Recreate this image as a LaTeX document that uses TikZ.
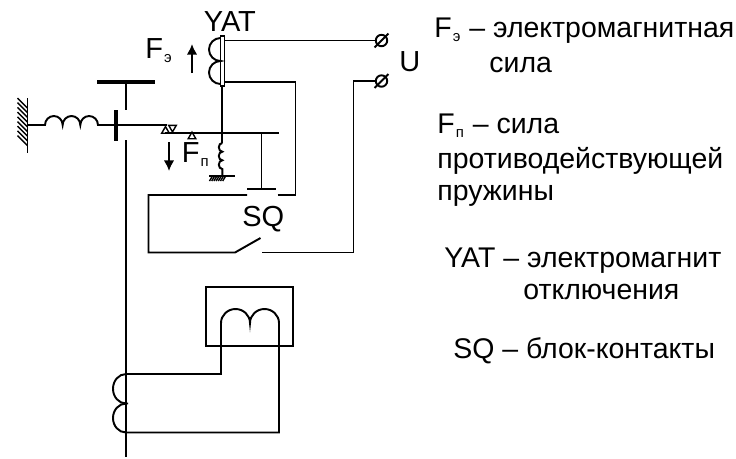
\documentclass[tikz,border=0pt]{standalone}
\usepackage{fontspec}
\setmainfont{Liberation Sans}
\usetikzlibrary{arrows.meta,shapes.geometric}
\newcommand{\lowtext}[1]{\kern0.6pt\relax\raisebox{-2.8pt}{\fontsize{8.5}{9}\selectfont #1}\kern0.6pt\relax}
\tikzset{
	wire/.style={line width=1.1pt},
	heavy/.style={line width=2.4pt},
	hatch/.style={line width=0.8pt},
	label/.style={anchor=base west,inner sep=0pt,font=\fontsize{16.2}{17}\selectfont},
	biglabel/.style={label,font=\fontsize{16.5}{18}\selectfont},
	force/.style={line width=1.1pt,-{Latex[length=6pt,width=6pt]}},
	tri/.style={regular polygon,regular polygon sides=3,draw,line width=0.8pt,inner sep=0pt,minimum size=5pt},
	terminal/.style={circle,draw,line width=1.1pt,inner sep=0pt,minimum size=6.5pt},
	rodbox/.style={rectangle,draw,line width=0.8pt,inner sep=0pt,minimum width=2.2pt,minimum height=28.5pt}
}
\begin{document}
\begin{tikzpicture}[x=0.02cm,y=0.02cm]
	\useasboundingbox (0,0) rectangle (736,-458);
	\coordinate (w1) at (27.5,-98);
	\coordinate (w2) at (27.5,-153);
	\coordinate (w0) at (27.5,-125);
	\coordinate (c1) at (45,-125);
	\coordinate (c2) at (98,-125);
	\coordinate (p1) at (116,-110);
	\coordinate (p2) at (116,-141);
	\coordinate (pm) at (116,-125);
	\coordinate (p3) at (167,-125);
	\coordinate (b1) at (97,-82);
	\coordinate (b2) at (155,-82);
	\coordinate (b3) at (126,-82);
	\coordinate (b4) at (126,-110);
	\coordinate (b5) at (126,-140);
	\coordinate (b6) at (126,-457);
	\coordinate (l1) at (165,-133);
	\coordinate (l2) at (279,-133);
	\coordinate (l4) at (261.5,-133);
	\coordinate (s1) at (222.3,-143);
	\coordinate (g0) at (222.3,-176);
	\coordinate (g1) at (209,-176);
	\coordinate (g2) at (235,-176);
	\coordinate (k1) at (247,-189);
	\coordinate (k2) at (276,-189);
	\coordinate (k3) at (261.5,-189);
	\coordinate (r1) at (277.5,-195);
	\coordinate (r2) at (295.5,-195);
	\coordinate (r3) at (295.5,-82);
	\coordinate (r4) at (224,-82);
	\coordinate (q1) at (247,-195);
	\coordinate (q2) at (148.5,-195);
	\coordinate (q3) at (148.5,-252.5);
	\coordinate (q4) at (235,-252.5);
	\coordinate (q5) at (260.5,-238);
	\coordinate (q6) at (262,-252.5);
	\coordinate (q7) at (353.5,-252.5);
	\coordinate (q8) at (353.5,-81);
	\coordinate (y1) at (224,-40.5);
	\coordinate (y2) at (220.5,-38);
	\coordinate (a1) at (192,-73);
	\coordinate (a2) at (192,-44);
	\coordinate (a3) at (169,-142);
	\coordinate (a4) at (169,-171);
	\coordinate (m1) at (221,-374);
	\coordinate (m2) at (221,-323);
	\coordinate (m5) at (279,-432.5);
	\coordinate (t1) at (126,-374);
	\coordinate (t2) at (126,-403.5);
	\coordinate (t3) at (126,-432.5);
	\coordinate (t4) at (128,-403.5);
	\node[rodbox] (rod) at (222.3,-61) {};
	\node[terminal] (u1) at (381.5,-40.5) {};
	\node[terminal] (u2) at (381.5,-81) {};
	\node[tri] (v1) at (165.5,-131) {};
	\node[tri,shape border rotate=180] (v2) at (172.5,-127.5) {};
	\node[tri] (v3) at (192,-136.5) {};
	\node[rectangle,draw,line width=1.1pt,minimum width=49.3pt,minimum height=33.4pt,inner sep=0pt] (box) at (249.5,-316.5) {};
	\node[biglabel] (tYAT) at (203.5,-31) {YAT};
	\node[biglabel] (tFe) at (145,-58) {F\lowtext{э}};
	\node[biglabel] (tFp) at (181.5,-162) {F\lowtext{п}};
	\node[biglabel] (tSQ) at (242,-226) {SQ};
	\node[biglabel] (tU) at (399,-71) {U};
	\node[label] (n1) at (434,-37) {F\lowtext{э} – электромагнитная};
	\node[label] (n2) at (489,-72) {сила};
	\node[label] (n3) at (437,-133) {F\lowtext{п} – сила};
	\node[label] (n4) at (437,-168) {противодействующей};
	\node[label] (n5) at (437,-200) {пружины};
	\node[label] (n6) at (444,-267) {YAT – электромагнит};
	\node[label] (n7) at (523,-299) {отключения};
	\node[label] (n8) at (453,-358) {SQ – блок-контакты};
	\draw [wire] (w1) -- (w2);
	\foreach \i in {0,...,8}
		\draw [hatch] (17.5,-98-4.7*\i) -- ++(10,-10);
	\draw [wire] (w0) -- (c1) arc[start angle=180,end angle=0,x radius=8.83,y radius=9]
		arc[start angle=180,end angle=0,x radius=8.83,y radius=9]
		arc[start angle=180,end angle=0,x radius=8.83,y radius=9] -- (c2) -- (pm);
	\draw [heavy] (p1) -- (p2);
	\draw [wire] (pm) -- (p3);
	\draw [heavy] (b1) -- (b2);
	\draw [wire] (b3) -- (b4);
	\draw [wire] (b5) -- (b6);
	\draw [wire] (l1) -- (l2);
	\draw [wire] (rod.south) -- (s1);
	\draw [wire] (s1) arc[start angle=90,end angle=270,x radius=3.5,y radius=4.33]
		arc[start angle=90,end angle=270,x radius=3.5,y radius=4.33]
		arc[start angle=90,end angle=270,x radius=3.5,y radius=4.33] -- (g0);
	\draw [line width=1.6pt] (g1) -- (g2);
	\foreach \i in {0,...,6}
		\draw [hatch] (209.5+2.2*\i,-181) -- ++(3,5);
	\draw [wire] (l4) -- (k3);
	\draw [line width=1.6pt] (k1) -- (k2);
	\draw [wire] (r1) -- (r2) -- (r3) -- (r4);
	\draw [wire] (q1) -- (q2) -- (q3) -- (q4) -- (q5);
	\draw [wire] (q6) -- (q7) -- (q8) -- (u2.west);
	\draw [wire] (y1) -- (u1.west);
	\draw [wire] (y2) arc[start angle=90,end angle=270,x radius=11.5,y radius=11.5]
		arc[start angle=90,end angle=270,x radius=11.5,y radius=11.5];
	\draw [wire,shorten >=-1.8pt,shorten <=-1.8pt] (u1.225) -- (u1.45);
	\draw [wire,shorten >=-1.8pt,shorten <=-1.8pt] (u2.225) -- (u2.45);
	\draw [force] (a1) -- (a2);
	\draw [force] (a3) -- (a4);
	\draw [wire] (t1) -- (m1) -- (m2) arc[start angle=180,end angle=0,x radius=14.5,y radius=14]
		arc[start angle=180,end angle=0,x radius=14.5,y radius=14] -- (m5) -- (t3);
	\draw [wire] (t1) arc[start angle=90,end angle=270,x radius=13,y radius=14.75] -- (t4);
	\draw [wire] (t2) arc[start angle=90,end angle=270,x radius=13,y radius=14.5];
\end{tikzpicture}
\end{document}
